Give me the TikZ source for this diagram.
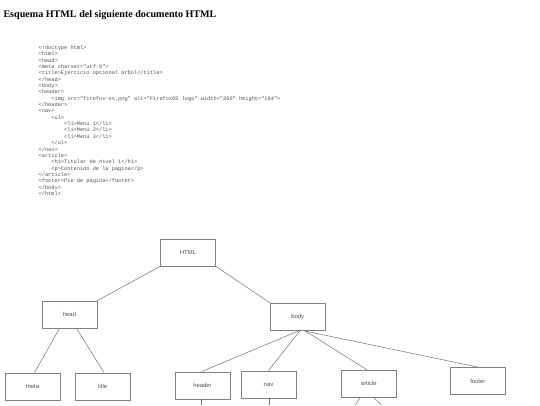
\documentclass[tikz,border=0pt]{standalone}
\usepackage{fontspec}
\setmainfont{Liberation Serif}
\newfontfamily\codefont{Liberation Mono}
\newfontfamily\labelfont{Liberation Sans}
\definecolor{boxline}{HTML}{808080}
\definecolor{conline}{HTML}{707070}
\definecolor{labeltext}{HTML}{505050}
\definecolor{codetext}{HTML}{505050}
\begin{document}
\begin{tikzpicture}[x=1pt,y=-1pt,
  treebox/.style={draw=boxline,line width=0.8pt,minimum width=55pt,minimum height=27pt,
    inner sep=0pt,font=\labelfont\fontsize{5.9}{7}\selectfont,text=labeltext},
  conn/.style={draw=conline,line width=0.5pt}]
\useasboundingbox (0,0) rectangle (540,405);
\node[anchor=west,inner sep=0pt,font=\bfseries\fontsize{10.1}{12}\selectfont] (heading) at (3.3,15) {Esquema HTML del siguiente documento HTML};
\node[anchor=north west,inner sep=0pt,align=left,text=codetext,
  font=\codefont\fontsize{5.3}{6.35}\selectfont] (code) at (38.5,45.4) {%
<!doctype html>\\
<html>\\
<head>\\
<meta charset="utf-8">\\
<title>Ejercicio opcional árbol</title>\\
</head>\\
<body>\\
<header>\\
\hspace*{2.4em}<img src="firefox-os.png" alt="FirefoxOS logo" width="200" height="164">\\
</header>\\
<nav>\\
\hspace*{2.4em}<ul>\\
\hspace*{4.8em}<li>Menú 1</li>\\
\hspace*{4.8em}<li>Menú 2</li>\\
\hspace*{4.8em}<li>Menú 3</li>\\
\hspace*{2.4em}</ul>\\
</nav>\\
<article>\\
\hspace*{2.4em}<h1>Titular de nivel 1</h1>\\
\hspace*{2.4em}<p>Contenido de la página</p>\\
</article>\\
<footer>Pie de página</footer>\\
</body>\\
</html>};
% tree
\node[treebox] (html) at (188,252.5) {HTML};
\node[treebox] (head) at (69.5,314.5) {head};
\node[treebox] (meta) at (32.5,386.5) {meta};
\node[treebox] (title) at (102.5,386.5) {title};
\node[treebox] (body) at (297.75,316.75) {body};
\node[treebox] (header) at (202.5,385.5) {header};
\node[treebox] (nav) at (268.5,384.5) {nav};
\node[treebox] (article) at (368.85,383.65) {article};
\node[treebox] (footer) at (477.8,381) {footer};
\coordinate (headerend) at (201,405);
\coordinate (navend) at (269.3,405);
\coordinate (artendl) at (355,405);
\coordinate (artendr) at (381.5,405);
\draw[conn] (html.south west) -- (head.north east);
\draw[conn] (html.south east) -- (body.north west);
\draw[conn] ([xshift=-10pt]head.south) -- ([xshift=2pt]meta.north);
\draw[conn] ([xshift=7pt]head.south) -- ([xshift=1.5pt]title.north);
\draw[conn] ([xshift=1.5pt]body.south) -- ([xshift=-1pt]header.north);
\draw[conn] ([xshift=2.2pt]body.south) -- (nav.north);
\draw[conn] ([xshift=7pt]body.south) -- ([xshift=-2pt]article.north);
\draw[conn] ([xshift=5.5pt]body.south) -- (footer.north);
\draw[conn] ([xshift=-1.5pt]header.south) -- (headerend);
\draw[conn] ([xshift=0.8pt]nav.south) -- (navend);
\draw[conn] ([xshift=-8.5pt]article.south) -- (artendl);
\draw[conn] ([xshift=5pt]article.south) -- (artendr);
\end{tikzpicture}
\end{document}
